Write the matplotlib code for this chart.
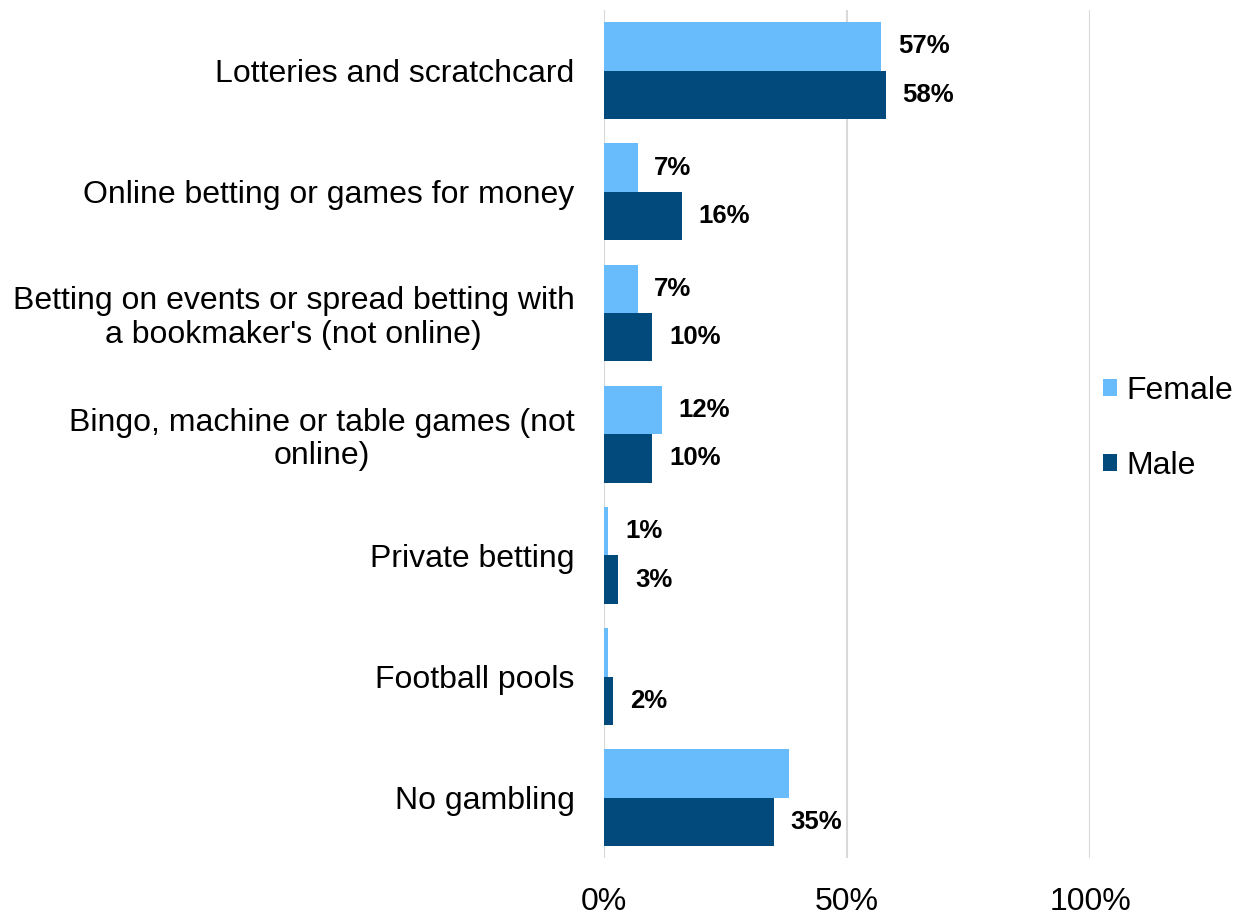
import matplotlib.pyplot as plt
import numpy as np

plt.rcParams['font.family'] = ['Liberation Sans', 'DejaVu Sans']

categories = [
    "Lotteries and scratchcard",
    "Online betting or games for money",
    "Betting on events or spread betting with\na bookmaker's (not online)",
    "Bingo, machine or table games (not\nonline)",
    "Private betting",
    "Football pools",
    "No gambling",
]
female = [57, 7, 7, 12, 1, 1, 38]
male = [58, 16, 10, 10, 3, 2, 35]
# labels shown next to the bars (None = no label)
female_labels = ["57%", "7%", "7%", "12%", "1%", None, None]
male_labels = ["58%", "16%", "10%", "10%", "3%", "2%", "35%"]

c_female = "#69bcfc"
c_male = "#034a7c"

fig = plt.figure(figsize=(12.42, 9.15), dpi=100)
ax = fig.add_axes([0.486, 0.062, 0.392, 0.927])

y = np.arange(len(categories))
h = 0.4
ax.barh(y - h / 2, female, height=h, color=c_female, label="Female", zorder=2)
ax.barh(y + h / 2, male, height=h, color=c_male, label="Male", zorder=2)

for yi, v, lab in zip(y - h / 2, female, female_labels):
    if lab:
        ax.annotate(lab, (v, yi), xytext=(12, 0), textcoords="offset points",
                    va="center", ha="left", fontsize=18.5, fontweight="bold")
for yi, v, lab in zip(y + h / 2, male, male_labels):
    if lab:
        ax.annotate(lab, (v, yi), xytext=(12, 0), textcoords="offset points",
                    va="center", ha="left", fontsize=18.5, fontweight="bold")

ax.set_ylim(len(categories) - 0.5, -0.5)
ax.set_xlim(0, 100)
ax.set_xticks([0, 50, 100])
ax.set_xticklabels(["0%", "50%", "100%"])
ax.set_yticks(y)
ax.set_yticklabels(categories, ha="right", multialignment="center",
                   linespacing=1.15)

ax.tick_params(axis="x", length=0, pad=21, labelsize=23)
ax.tick_params(axis="y", length=0, pad=21, labelsize=23)
ax.grid(axis="x", color="#d9d9d9", linewidth=1.5, zorder=0)
for s in ax.spines.values():
    s.set_visible(False)

fig.legend(loc="center left", bbox_to_anchor=(0.888, 0.532), frameon=False,
           fontsize=23, handlelength=0.44, handleheight=0.44, handletextpad=0.3,
           labelspacing=1.4, borderaxespad=0, borderpad=0)

fig.savefig("out.png", dpi=100)
